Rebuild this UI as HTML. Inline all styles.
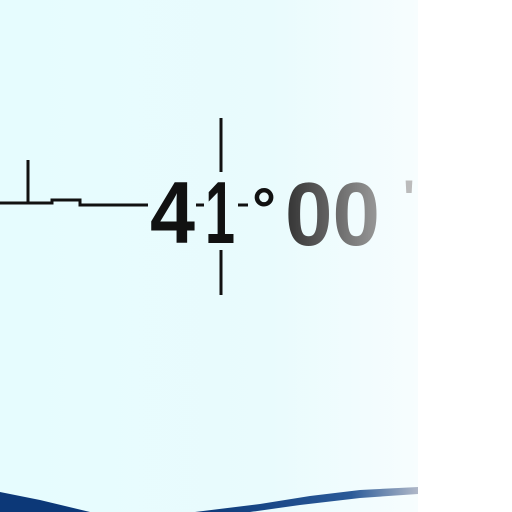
<!DOCTYPE html>
<html><head><meta charset="utf-8"><style>
html,body{margin:0;padding:0;width:512px;height:512px;overflow:hidden;background:#fff}
</style></head><body>
<svg width="512" height="512" viewBox="0 0 512 512" xmlns="http://www.w3.org/2000/svg">
<defs>
<linearGradient id="bg" x1="0" x2="1" y1="0" y2="0">
<stop offset="0" stop-color="#e6fcfe"/><stop offset="0.65" stop-color="#e9fbfd"/><stop offset="1" stop-color="#f7fdfe"/>
</linearGradient>
<linearGradient id="txt" x1="0" x2="1" y1="0" y2="0">
<stop offset="0" stop-color="#333"/><stop offset="1" stop-color="#9a9a9a"/>
</linearGradient>
<linearGradient id="coast" x1="0" x2="1"><stop offset="0" stop-color="#0c3878"/><stop offset="0.7" stop-color="#2a5a98"/><stop offset="1" stop-color="#b0b8c8"/></linearGradient>
</defs>
<rect x="0" y="0" width="418" height="512" fill="url(#bg)"/>
<g stroke="#111" stroke-width="3" fill="none">
<polyline points="0,203 52,203 52,200 80,200 80,205 148,205"/>
<line x1="28" y1="160" x2="28" y2="203"/>
<line x1="221" y1="118" x2="221" y2="172"/>
<line x1="221" y1="250" x2="221" y2="295"/>
<line x1="196" y1="205" x2="204" y2="205"/>
<line x1="238" y1="205" x2="248" y2="205"/>
</g>
<g font-family="Liberation Sans, sans-serif" font-weight="bold">
<text x="150" y="243" font-size="88" textLength="45" lengthAdjust="spacingAndGlyphs" fill="#111">4</text>
<text x="205" y="243" font-size="88" textLength="30" lengthAdjust="spacingAndGlyphs" fill="#111">1</text>
<text x="252" y="230" font-size="60" fill="#111">°</text>
<text x="285" y="245" font-size="90" textLength="95" lengthAdjust="spacingAndGlyphs" fill="url(#txt)">00</text>
<text x="403" y="215" font-size="50" fill="#bbb">'</text>
</g>
<g>
<path d="M0,492 L40,500 L90,512 L0,512 Z" fill="#0c3878"/>
<path d="M195,512 L260,504 L310,496 L360,490 L418,487 L418,494 L360,498 L300,505 L250,512 Z" fill="url(#coast)"/>
</g>
</svg>
</body></html>
